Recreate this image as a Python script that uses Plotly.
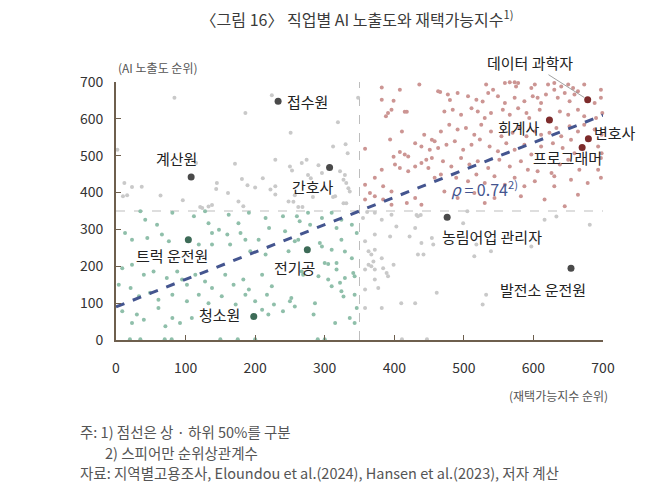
import plotly.graph_objects as go

# 재택가능지수 순위(x), AI 노출도 순위(y)
# 상위 50% / 상위 50% (red)
red_x = [382, 408, 436, 463, 382, 399, 396, 391, 388, 418, 358, 382, 394, 399, 408, 415, 420,
         411, 430, 439, 443, 454, 458, 451, 463, 401, 408, 420, 430, 439, 446, 454, 449, 458,
         358, 372, 384, 396, 365, 372, 358, 384, 396, 418, 430, 439,
         532, 542, 559, 566, 573, 578, 575, 597, 602, 621, 630, 640, 650, 657, 630, 664, 673, 697,
         477, 491, 506, 518, 527, 535, 549, 559, 573, 587, 599, 606, 611, 618, 635, 645, 652, 659, 688, 697,
         472, 484, 496, 511, 520, 530, 539, 556, 566, 578, 590, 594, 609, 638, 650, 664, 673, 690, 699,
         467, 479, 491, 503, 515, 525, 539, 554, 570, 580, 590, 602, 611, 623, 633, 640, 652, 664, 673, 688, 698,
         475, 487, 499, 511, 523, 537, 549, 561, 573, 587, 597, 611, 628, 642, 654, 693, 698, 659,
         470, 482, 496, 508, 520, 535, 551, 566, 582, 592, 606, 626, 638, 650, 666, 693, 697,
         467, 489, 506, 518, 530, 544, 559, 573, 587, 602, 630, 654, 678, 697,
         472, 491, 515, 530, 544, 582, 616, 630, 645, 664, 466, 415, 480]
red_y = [685, 679, 693, 675, 652, 649, 625, 616, 607, 619, 519, 462, 544, 497, 510, 503, 498,
         566, 534, 525, 557, 543, 539, 516, 521, 476, 467, 458, 471, 480, 489, 494, 467, 440,
         421, 440, 417, 403, 399, 390, 381, 381, 367, 372, 385, 367,
         693, 679, 697, 699, 699, 697, 688, 684, 693, 693, 697, 688, 693, 684, 679, 675, 693, 679,
         666, 670, 661, 652, 647, 670, 661, 643, 657, 648, 661, 657, 643, 666, 657, 670, 648, 666, 643, 657,
         620, 625, 611, 629, 620, 602, 616, 625, 611, 629, 616, 602, 625, 620, 611, 625, 607, 602, 616,
         566, 584, 571, 575, 557, 584, 566, 553, 562, 575, 553, 566, 557, 562, 575, 553, 580, 566, 584, 571, 557,
         530, 539, 516, 530, 544, 525, 512, 534, 516, 530, 503, 525, 534, 521, 543, 525, 507, 507,
         485, 471, 494, 476, 485, 467, 489, 471, 485, 462, 458, 453, 476, 489, 462, 462, 494,
         449, 440, 431, 449, 426, 444, 421, 440, 417, 431, 444, 435, 426, 440,
         403, 385, 399, 372, 385, 390, 381, 417, 363, 394, 673, 619, 651]

# 하위 50% / 하위 50% (green)
green_x = [35, 81, 128, 162, 191, 215, 42, 59, 13, 23, 45, 66, 76, 112, 133, 138, 148, 160,
           176, 179, 164, 186, 205, 220, 193, 215, 138, 119, 9, 23, 40, 54, 73, 88, 95, 102,
           114, 128, 138, 157, 169, 183, 191, 210, 224, 4, 21, 33, 49, 61, 81, 102, 119, 133,
           152, 172, 186, 200, 217, 227, 9, 30, 40, 61, 81, 92, 109, 210, 219, 23, 71,
           20, 35, 70, 80, 150, 175, 200, 290, 300,
           240, 260, 264, 276, 279, 296, 310, 317, 324, 339, 346, 243, 257, 262, 293, 296,
           310, 324, 329, 339, 300, 305, 317, 317, 248, 267, 269, 291, 305, 322, 329, 343,
           341, 310, 324, 327, 343, 252, 250, 257, 240, 286, 284, 315, 336, 346, 343]
green_y = [349, 345, 349, 340, 345, 331, 326, 313, 290, 272, 277, 286, 268, 336, 317, 290, 299, 286,
           317, 290, 259, 272, 272, 304, 241, 232, 259, 259, 195, 204, 177, 186, 168, 186, 164, 150,
           177, 159, 141, 177, 150, 164, 137, 177, 146, 150, 141, 119, 128, 109, 123, 105, 123, 100,
           119, 96, 123, 105, 123, 96, 78, 69, 55, 87, 60, 46, 60, 82, 69, 46, 37,
           2, 2, 2, 2, 2, 2, 2, 2, 2,
           336, 336, 322, 345, 313, 331, 345, 304, 326, 313, 290, 295, 268, 272, 263, 254,
           245, 272, 240, 222, 209, 206, 209, 191, 241, 186, 177, 173, 164, 155, 168, 173,
           182, 146, 132, 118, 123, 114, 105, 91, 78, 100, 69, 46, 60, 87, 46]

# 나머지 (gray): 좌상단 + 우하단
gray_x = [84, 224, 186, 2, 115, 229, 171, 12, 37, 10, 16, 64, 145, 144, 161, 181, 189, 200,
          211, 222, 229, 96, 176, 183, 124, 133, 138, 229, 319, 251, 348, 312, 330, 333, 250,
          253, 267, 274, 276, 280, 291, 322, 329, 327, 331, 334, 336, 315, 248, 255, 327, 331,
          23, 121, 296, 283, 312, 262, 268, 257,
          355, 372, 382, 396, 403, 394, 372, 358, 363, 367, 372, 370, 363, 367, 358, 372, 382,
          384, 391, 389, 358, 372, 377, 382, 358, 399, 422, 430, 434, 439, 442, 454, 456, 434,
          410, 430, 461, 411, 447, 499, 518, 515, 539, 616, 633, 681, 597, 532, 527, 505, 361,
          432, 438]
gray_y = [657, 664, 616, 516, 480, 489, 478, 426, 416, 390, 393, 392, 426, 410, 399, 437, 420, 414,
          439, 408, 417, 379, 376, 363, 358, 362, 366, 395, 591, 562, 657, 525, 531, 507, 471,
          460, 480, 489, 448, 439, 474, 458, 448, 435, 426, 412, 403, 390, 376, 375, 371, 371,
          415, 361, 453, 388, 388, 361, 361, 393,
          331, 345, 326, 340, 308, 281, 286, 268, 241, 232, 245, 213, 204, 200, 191, 191, 222,
          195, 173, 182, 137, 164, 141, 87, 87, 204, 281, 304, 336, 263, 232, 277, 259, 232,
          100, 100, 128, 2, 2, 317, 259, 227, 241, 326, 335, 313, 254, 123, 96, 349, 347,
          339, 339]

# 주요 직업
occ_names = ["접수원", "계산원", "간호사", "트럭 운전원", "전기공", "청소원",
             "농림어업 관리자", "발전소 운전원", "데이터 과학자", "회계사", "변호사", "프로그래머"]
occ_x = [233, 108, 307, 104, 275, 198, 476, 654, 678, 623, 679, 670]
occ_y = [648, 442, 468, 272, 245, 64, 333, 195, 652, 597, 546, 522]

# 추세선 양 끝 (x: 0, 700)
trend_x = [0, 700]
trend_y = [90, 610]
median_rank = 350
rho = 0.74

FONT = "Noto Sans CJK KR"

fig = go.Figure()

for xs, ys, col in [(gray_x, gray_y, "#c9c9c9"), (green_x, green_y, "#8fbfaa"),
                    (red_x, red_y, "#cc9593")]:
    fig.add_trace(go.Scatter(x=xs, y=ys, mode="markers", cliponaxis=False,
                             marker=dict(size=4, color=col), hoverinfo="skip"))

fig.add_vline(x=median_rank, line=dict(color="#bdbdbd", width=1, dash="dash"), layer="below")
fig.add_hline(y=median_rank, line=dict(color="#bdbdbd", width=1, dash="dash"), layer="below")

fig.add_trace(go.Scatter(x=trend_x, y=trend_y, mode="lines",
                         line=dict(color="#44558f", width=3, dash="dash"), hoverinfo="skip"))


def occ_color(x, y):
    if x > median_rank and y > median_rank:
        return "#7d2b2b"
    if x <= median_rank and y <= median_rank:
        return "#3d6b57"
    return "#4a4a4a"


fig.add_trace(go.Scatter(x=occ_x, y=occ_y, mode="markers", text=occ_names,
                         marker=dict(size=7, color=[occ_color(a, b) for a, b in zip(occ_x, occ_y)]),
                         hovertemplate="%{text}<extra></extra>"))

# label placement: (xanchor, xshift, yshift) in px
label_pos = {
    "접수원": ("left", 7, 0),
    "계산원": ("center", -15, 19),
    "간호사": ("center", -17, -19),
    "트럭 운전원": ("center", -16, -16),
    "전기공": ("center", -13, -18),
    "청소원": ("right", -12, 2),
    "농림어업 관리자": ("left", -7, -19),
    "발전소 운전원": ("center", -28, -21),
    "회계사": ("right", -7, -8),
    "변호사": ("left", 4, 6),
    "프로그래머": ("center", -15, -10),
}
for name, x, y in zip(occ_names, occ_x, occ_y):
    if name == "데이터 과학자":
        fig.add_annotation(x=x, y=y, text=name, showarrow=True, arrowhead=0, arrowwidth=0.8,
                           arrowcolor="#888888", ax=-58, ay=-37, standoff=4,
                           font=dict(size=15, color="#222222", family=FONT))
        continue
    anchor, xs, ys = label_pos[name]
    fig.add_annotation(x=x, y=y, text=name, showarrow=False, xanchor=anchor,
                       xshift=xs, yshift=ys, font=dict(size=15, color="#222222", family=FONT))

fig.add_annotation(x=529, y=410, text=f"<i>ρ</i> = {rho}<sup>2)</sup>", showarrow=False,
                   font=dict(size=16, color="#44558f", family=FONT))

# axis titles
fig.add_annotation(xref="paper", yref="paper", x=0.0, y=1.055, xanchor="left", yanchor="middle",
                   text="(AI 노출도 순위)", showarrow=False,
                   font=dict(size=12, color="#555555", family=FONT))
fig.add_annotation(xref="paper", yref="paper", x=1.015, y=-0.215, xanchor="right", yanchor="middle",
                   text="(재택가능지수 순위)", showarrow=False,
                   font=dict(size=12, color="#555555", family=FONT))

# footnotes
notes = [(-0.078, -0.353, "주: 1) 점선은 상 · 하위 50%를 구분"),
         (-0.026, -0.437, "2) 스피어만 순위상관계수"),
         (-0.078, -0.515, "자료: 지역별고용조사, Eloundou et al.(2024), Hansen et al.(2023), 저자 계산")]
for nx, ny, txt in notes:
    fig.add_annotation(xref="paper", yref="paper", x=nx, y=ny, xanchor="left", yanchor="middle",
                       text=txt, showarrow=False, font=dict(size=14.5, color="#555555", family=FONT))

axis_style = dict(range=[0, 700], dtick=100, showgrid=False, zeroline=False,
                  showline=True, linecolor="#6e5f4e", linewidth=2,
                  ticks="inside", ticklen=5, tickcolor="#6e5f4e", tickwidth=1,
                  tickfont=dict(size=14, color="#333333", family=FONT))

fig.update_xaxes(**axis_style, ticklabelstandoff=14)
fig.update_yaxes(**axis_style, ticklabelstandoff=8)

# the page body adds an 8px offset, so margins are shifted by that amount
fig.update_layout(
    width=670, height=504,
    margin=dict(l=108, r=75, t=74, b=172),
    plot_bgcolor="white", paper_bgcolor="white",
    showlegend=False,
    font=dict(family=FONT),
    title=dict(text="〈그림 16〉 직업별 AI 노출도와 재택가능지수<sup>1)</sup>",
               x=0.521, xanchor="center", y=0.976, yanchor="middle",
               font=dict(size=16, color="#3a3a3a", family=FONT)),
)

fig.write_html("out.html")
